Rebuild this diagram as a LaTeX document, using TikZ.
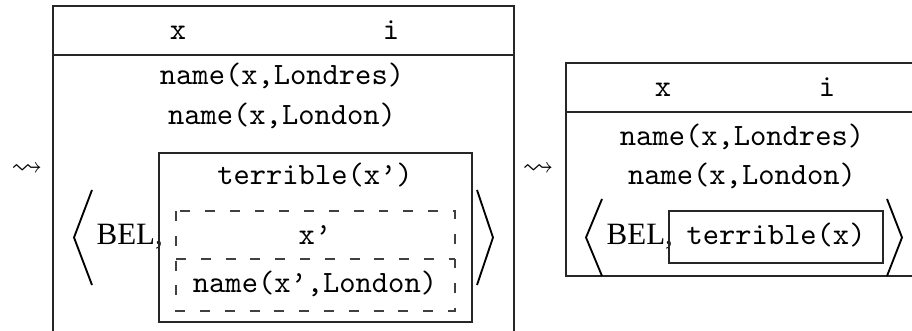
\documentclass[tikz,border=0pt]{standalone}
\usepackage{amssymb}
\usepackage{fontspec}
\setmainfont{Liberation Serif}
\begin{document}
\begin{tikzpicture}[x=0.3226pt,y=-0.3226pt,
  boxline/.style={line width=0.4pt,draw=black!85},
  dashbox/.style={line width=0.4pt,draw=black!75,dash pattern=on 3.2pt off 4.8pt},
  angle/.style={line width=0.6pt,line join=miter},
  tt/.style={font=\ttfamily,inner sep=0pt,anchor=base},
  rm/.style={inner sep=0pt,anchor=base west},
  arr/.style={inner sep=0pt}]
\useasboundingbox (0,0) rectangle (912,331);
% ---- first arrow
\node[arr] (a1) at (27,170) {$\leadsto$};
% ---- left DRS
\draw[boxline] (53,331) -- (53,6) -- (514,6) -- (514,331);
\draw[boxline] (53,55) -- (514,55);
\node[tt] (lx) at (178,40) {x};
\node[tt] (li) at (391,40) {i};
\node[tt] (l1) at (282,85) {name(x,Londres)};
\node[tt] (l2) at (282,125) {name(x,London)};
\node[rm] (lbel) at (96,245) {BEL,};
\draw[boxline] (159,153) rectangle (472,322);
\node[tt] (lt) at (315,185) {terrible(x’)};
\draw[dashbox] (176,211) rectangle (455,311);
\draw[dashbox] (176,259) -- (455,259);
\node[tt] (lxp) at (315,245) {x’};
\node[tt] (ln) at (315,293) {name(x’,London)};
\draw[angle] (92,190) -- (74,237.5) -- (92,285);
\draw[angle] (477,190) -- (493,237.5) -- (477,285);
% ---- second arrow
\node[arr] (a2) at (538,170) {$\leadsto$};
% ---- right DRS
\draw[boxline] (912,63) -- (566,63) -- (566,276) -- (912,276);
\draw[boxline] (566,112) -- (912,112);
\node[tt] (rx) at (663,97) {x};
\node[tt] (ri) at (827,97) {i};
\node[tt] (r1) at (742,146) {name(x,Londres)};
\node[tt] (r2) at (742,185) {name(x,London)};
\node[rm] (rbel) at (606,245) {BEL,};
\draw[boxline] (669,211) rectangle (883,263);
\node[tt] (rt) at (776,245) {terrible(x)};
\draw[angle] (602,199) -- (586,237.5) -- (602,276);
\draw[angle] (887,199) -- (902,237.5) -- (887,276);
\end{tikzpicture}
\end{document}
